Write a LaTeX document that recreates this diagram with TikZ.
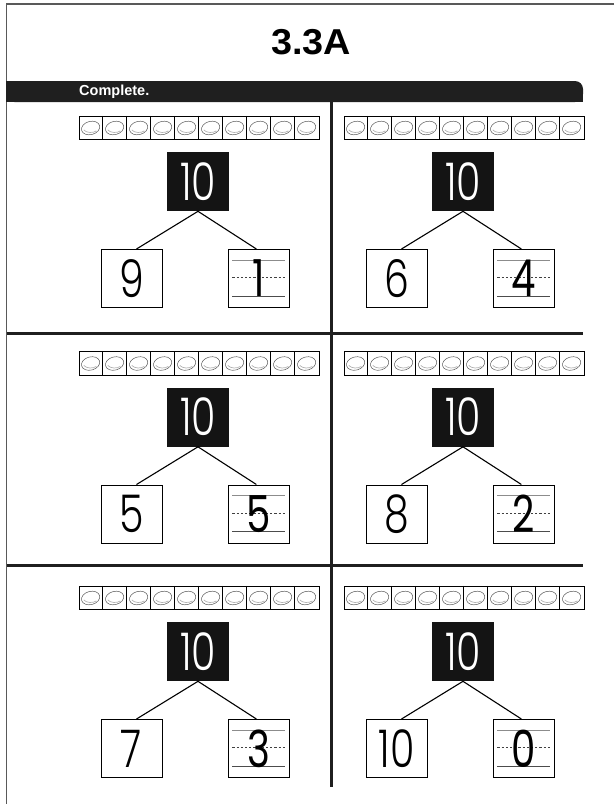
\documentclass[tikz,border=0pt]{standalone}
\usepackage{fontspec}
\setmainfont{Liberation Sans}
\newfontfamily\numfont{Poppins}[UprightFont=* Light]
\newfontfamily\inkfont{Poppins}
\usetikzlibrary{positioning,backgrounds}

\newcommand\bondnum[1]{{\numfont\fontsize{52}{52}\selectfont\scalebox{0.76}[1]{#1}}}
\newcommand\inknum[1]{{\inkfont\fontsize{51}{51}\selectfont\scalebox{0.76}[1]{#1}}}

\begin{document}
\begin{tikzpicture}[
  x=1pt, y=-1pt,
  node distance=37.7pt and 4.6pt,
  whole/.style={fill=black!92, text=white, minimum width=61.5pt, minimum height=59pt, inner sep=0pt},
  part/.style={draw, line width=0.9pt, minimum width=61pt, minimum height=58pt, inner sep=0pt},
  carton/.style={draw, line width=0.8pt, minimum width=240pt, minimum height=23.5pt, inner sep=0pt},
  bar/.style={fill=black!88, rounded corners=8pt, minimum width=576.5pt, minimum height=21pt, inner sep=0pt},
  divider/.style={line width=3pt, black!88},
  link/.style={line width=1.1pt},
  rule/.style={line width=0.8pt},
  egg/.style={draw=black!65, line width=0.5pt},
  shine/.style={draw=black!30, line width=0.7pt}
]
\useasboundingbox (0,0) rectangle (614,804);

% page frame and heading
\draw[line width=1.2pt, black!65] (614,4) -- (6.5,4) -- (6.5,804);
\node[font=\bfseries\fontsize{36}{36}\selectfont] (title) at (311,41.7) {\scalebox{1.05}[1]{3.3A}};
\node[bar] (bar) at (294.75,91.5) {};
\fill[black!88] (bar.south west) rectangle ([xshift=-12pt]bar.north east);
\fill[black!88] ([xshift=-12pt]bar.south east) rectangle (bar.east);
\node[anchor=west, text=white, inner sep=0pt, font=\bfseries\fontsize{14.5}{14.5}\selectfont] (task) at (79,92) {Complete.};

% grid
\draw[divider] (331.5,102) -- (331.5,787);
\draw[divider] (6.5,333.3) -- (583,333.3);
\draw[divider] (6.5,565) -- (583,565);

% number bonds
\foreach \px/\py/\pl/\pr/\id in {0/0/9/1/a, 265/0/6/4/b, 0/235.5/5/5/c, 265/235.5/8/2/d, 0/470/7/3/e, 265/470/10/0/f}{
\begin{scope}[shift={(\px,\py)}]
  \node[carton] (carton\id) at (199,128) {};
  \foreach \k in {1,...,9}
    \draw[line width=0.5pt] ([xshift=\k*24pt]carton\id.north west) -- ([xshift=\k*24pt]carton\id.south west);
  \draw[line width=1.6pt] ([xshift=120pt]carton\id.north west) -- ([xshift=120pt]carton\id.south west);
  \foreach \k in {0,...,9}{
    \coordinate (egg) at ([xshift=\k*24pt+12pt]carton\id.west);
    \draw[egg, rotate around={15:(egg)}] (egg) ellipse (9.3pt and 6.6pt);
    \draw[shine] (egg) ++(205:7.5pt and 4.5pt) arc[start angle=205, end angle=320, x radius=7.5pt, y radius=4.5pt];
  }
  \node[whole] (top\id) at (198,181.6) {\bondnum{10}};
  \node[part, below left=of top\id] (left\id) {\bondnum{\pl}};
  \node[part, below right=37.7pt and -1pt of top\id] (right\id) {\inknum{\pr}};
  \begin{scope}[on background layer]
    \draw[rule, black!45] ([shift={(4.5pt,-11.3pt)}]right\id.north west) -- ([shift={(-5pt,-11.3pt)}]right\id.north east);
    \draw[rule, black!75, dash pattern=on 2.2pt off 2pt] ([shift={(4.5pt,-28.6pt)}]right\id.north west) -- ([shift={(-5pt,-28.6pt)}]right\id.north east);
    \draw[rule, black!70] ([shift={(4.5pt,-47pt)}]right\id.north west) -- ([shift={(-5pt,-47pt)}]right\id.north east);
  \end{scope}
  \draw[link] (top\id.south) -- ([xshift=5pt]left\id.north);
  \draw[link] (top\id.south) -- ([xshift=-2.5pt]right\id.north);
\end{scope}
}
\end{tikzpicture}
\end{document}
